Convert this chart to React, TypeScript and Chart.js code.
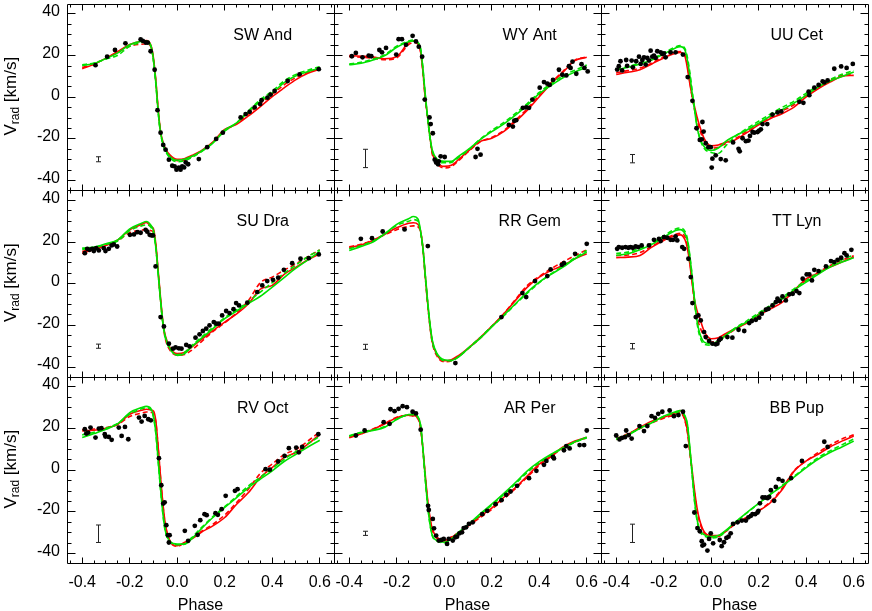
import React, { useEffect, useRef } from 'react';
import { Chart, registerables } from 'chart.js';

Chart.register(...registerables);

// ---------- shared axes ----------
const PHASE = [-0.4, -0.35, -0.3, -0.25, -0.2, -0.15, -0.13, -0.11, -0.1, -0.09, -0.08, -0.07, -0.06, -0.05, -0.03, 0, 0.03, 0.06, 0.1, 0.15, 0.2, 0.25, 0.3, 0.35, 0.4, 0.45, 0.5, 0.55, 0.6];
const X_TICKS = [-0.4, -0.2, 0, 0.2, 0.4, 0.6];
const Y_TICKS = [-40, -20, 0, 20, 40];
const X_MIN = -0.464;
const X_MAX = 0.66;
const Y_MIN = -44.8;
const Y_MAX = 44.8;

// ---------- SW And ----------
const SW_AND_RED = [13.7, 15.8, 18.8, 22, 25.3, 27.0, 27.3, 24.8, 18.8, 8, -6, -16.5, -21.5, -24.5, -27.8, -29.8, -29.5, -28, -25.8, -21.5, -15.5, -13, -9, -4.5, 0.3, 4.5, 8.5, 11.5, 13.5];
const SW_AND_RED_DASH = [14.3, 16, 18.7, 21.5, 24.5, 25.5, 25.7, 24, 18, 7.5, -6.5, -17, -22, -25, -28.3, -30.5, -30.2, -28.5, -26, -21.7, -16, -12.7, -8, -3, 1.5, 6, 9.5, 12, 14];
const SW_AND_GREEN = [15.2, 16.2, 18.6, 21.3, 25.2, 26.9, 27.0, 24.5, 18, 7, -7, -17, -22, -25.3, -28.6, -30.3, -29.8, -28.5, -26, -22, -15.8, -12.3, -7, -2, 2, 7, 10.3, 12.3, 14];
const SW_AND_GREEN_DASH = [15.6, 16.5, 18.3, 20.2, 24.5, 26.3, 26.6, 24.2, 17.5, 6.5, -7.5, -17.5, -22.5, -25.8, -29.2, -31, -30.5, -29, -26.3, -21.8, -16.3, -12.3, -6.5, -1.2, 3, 7.8, 11, 13, 14.7];
const SW_AND_OBS = [[-0.344, 15.4], [-0.295, 19.5], [-0.262, 22.7], [-0.218, 25.9], [-0.154, 27.8], [-0.145, 27.1], [-0.133, 26.3], [-0.124, 26.2], [-0.112, 22.1], [-0.095, 13.2], [-0.083, -6.2], [-0.07, -17.0], [-0.059, -22.9], [-0.049, -25.2], [-0.035, -30.0], [-0.021, -32.9], [-0.011, -33.2], [-0.003, -34.8], [0.007, -33.8], [0.014, -34.8], [0.021, -33.2], [0.029, -33.7], [0.036, -31.3], [0.046, -32.2], [0.091, -29.7], [0.126, -24.0], [0.164, -20.0], [0.192, -17.0], [0.267, -9.7], [0.288, -8.1], [0.305, -7.0], [0.326, -4.9], [0.349, -3.3], [0.355, -1.4], [0.38, -0.2], [0.393, 1.3], [0.41, 3.0], [0.465, 7.8], [0.515, 11.0], [0.596, 13.5]];
const SW_AND_ERR = [-0.33, -29.8, 1.2];

// ---------- WY Ant ----------
const WY_ANT_RED = [20, 19.7, 19.3, 18.5, 19.5, 26.3, 27, 26, 22.4, 12.9, 0, -9.4, -18.9, -26.8, -31.3, -33.2, -32.7, -30, -26, -21.3, -19.7, -16.5, -11.7, -6.2, 0.2, 6.5, 12, 17.6, 19.2];
const WY_ANT_RED_DASH = [19.5, 19.2, 18.8, 18, 19, 25.3, 26.3, 25.5, 22, 12.5, -0.5, -10, -19.5, -27.5, -32, -34, -33.3, -30.5, -26.3, -21.5, -19.3, -16, -11, -5.5, 1, 7, 12.5, 17.8, 19.4];
const WY_ANT_GREEN = [15.6, 16.3, 17.9, 20, 24, 26.7, 27.1, 26, 23.5, 14, 1.5, -9.5, -19, -25.5, -29.7, -30.8, -30.8, -28.4, -25.2, -20.5, -16.5, -12.9, -8.6, -3.8, 1.7, 5.7, 9.4, 12.1, 14.4];
const WY_ANT_GREEN_DASH = [16, 16.8, 18.3, 20.5, 24.5, 27, 27.5, 26.2, 23.8, 14.5, 1, -10, -19.5, -26, -30.3, -31.5, -31.3, -29, -25.5, -20.3, -16, -12.2, -7.8, -3, 2.3, 6.5, 10.3, 13, 15.5];
const WY_ANT_OBS = [[-0.389, 19.7], [-0.372, 21.3], [-0.344, 19.2], [-0.318, 20.0], [-0.307, 19.7], [-0.273, 22.7], [-0.262, 21.6], [-0.245, 23.7], [-0.202, 20.5], [-0.192, 27.9], [-0.178, 27.9], [-0.161, 25.2], [-0.133, 29.5], [-0.119, 26.8], [-0.107, 24.3], [-0.093, 19.5], [-0.082, -1.1], [-0.062, -9.7], [-0.057, -12.9], [-0.048, -17.3], [-0.04, -30.0], [-0.034, -31.3], [-0.026, -32.2], [-0.023, -30.8], [-0.015, -28.4], [0.002, -28.7], [0.132, -28.7], [0.14, -24.8], [0.153, -27.6], [0.272, -13.3], [0.289, -14.1], [0.295, -11.3], [0.303, -11.0], [0.331, -5.1], [0.345, -4.9], [0.357, -5.1], [0.371, -1.1], [0.402, 4.6], [0.42, 7.3], [0.434, 6.5], [0.444, 5.9], [0.458, 8.3], [0.483, 13.2], [0.497, 10.8], [0.514, 10.5], [0.525, 14.9], [0.532, 14.1], [0.54, 17.1], [0.556, 11.3], [0.578, 15.9], [0.59, 14.1], [0.604, 12.4]];
const WY_ANT_ERR = [-0.33, -29.4, 4.4];

// ---------- UU Cet ----------
const UU_CET_RED = [11, 12, 13.2, 16, 18.9, 21.1, 21.5, 19.5, 13.7, 6.5, 0.2, -4.6, -9.4, -13.3, -19.7, -23.3, -22.9, -21.7, -20.5, -17, -13.3, -10.2, -7.8, -4.6, 0.2, 4.1, 7.3, 10, 10.5];
const UU_CET_RED_DASH = [11.8, 12.8, 14, 16.5, 19.5, 21.8, 22, 20.5, 15, 7.5, 0, -6, -11, -15, -21, -24.5, -24, -22.3, -20, -16.3, -12.8, -9.5, -6.5, -3.5, 1, 4.8, 8, 10.5, 11.3];
const UU_CET_GREEN = [13.2, 14.4, 16, 17.9, 20.8, 23.7, 24.3, 22.5, 17.6, 10.5, 1.7, -6.2, -14.1, -18.9, -23.7, -25.6, -24.4, -21.3, -18.6, -15.7, -12.5, -9, -5.9, -2.7, 1, 4.9, 7.8, 10, 12.1];
const UU_CET_GREEN_DASH = [13.5, 14.8, 16.5, 18.5, 21.3, 24.2, 24.8, 23.2, 19, 12, 3, -5.5, -13.5, -19, -24.5, -26.5, -27, -23.5, -19, -15, -11.5, -8, -4.8, -1.8, 2, 5.5, 8.5, 11, 12.8];
const UU_CET_OBS = [[-0.396, 13.3], [-0.389, 14.9], [-0.382, 17.3], [-0.375, 12.9], [-0.358, 17.9], [-0.354, 15.1], [-0.335, 17.6], [-0.33, 14.4], [-0.316, 17.3], [-0.304, 19.5], [-0.297, 16.0], [-0.29, 17.9], [-0.283, 19.2], [-0.276, 15.7], [-0.269, 18.9], [-0.262, 17.6], [-0.255, 22.4], [-0.248, 19.5], [-0.241, 20.0], [-0.234, 18.9], [-0.227, 22.1], [-0.213, 21.6], [-0.206, 20.8], [-0.199, 21.1], [-0.192, 19.2], [-0.171, 21.6], [-0.15, 21.6], [-0.119, 20.5], [-0.099, 9.7], [-0.079, -1.7], [-0.062, -14.9], [-0.048, -20.5], [-0.04, -20.2], [-0.037, -11.9], [-0.032, -16.5], [-0.023, -22.1], [-0.012, -24.0], [-0.002, -24.0], [0.005, -29.5], [0.002, -33.8], [0.019, -27.9], [0.04, -29.7], [0.061, -30.3], [0.092, -21.7], [0.115, -24.8], [0.12, -26.0], [0.132, -19.7], [0.146, -21.1], [0.157, -20.8], [0.163, -18.6], [0.174, -16.7], [0.181, -17.0], [0.195, -16.7], [0.202, -16.0], [0.209, -15.4], [0.216, -12.9], [0.236, -12.9], [0.258, -8.3], [0.279, -7.3], [0.295, -6.8], [0.371, -2.2], [0.388, -2.7], [0.41, 2.7], [0.413, 1.0], [0.434, 4.6], [0.452, 5.9], [0.469, 7.6], [0.476, 7.1], [0.49, 8.1], [0.518, 13.7], [0.547, 14.8], [0.57, 14.1], [0.596, 16.0]];
const UU_CET_ERR = [-0.33, -29.5, 2.0];

// ---------- SU Dra ----------
const SU_DRA_RED = [14.7, 16.5, 18.4, 21, 25.9, 28.5, 29.4, 27.5, 26.4, 19, 6, -7, -18.5, -25, -30.8, -33.5, -33, -30.5, -27, -22.5, -18.4, -14.5, -9.6, -2.6, -0.8, 4.5, 8, 11.5, 14.4];
const SU_DRA_RED_DASH = [15.5, 16.8, 18.6, 20.8, 24.5, 25.8, 26, 25.5, 24.5, 18, 5, -8, -19.5, -26.5, -32, -34.3, -34, -32, -28, -23, -18.8, -14, -8, 0.5, 3.2, 6.5, 9.6, 13, 16.3];
const SU_DRA_GREEN = [17.1, 17.6, 19.2, 21.1, 26.4, 29.1, 29.9, 28, 25.6, 17.6, 4.8, -8, -19.2, -25.6, -31.2, -34.4, -33.6, -30.4, -26.4, -21.6, -16.8, -13.1, -9.5, -6, -1.6, 3, 7.5, 11.5, 15.5];
const SU_DRA_GREEN_DASH = [16.5, 17.3, 19, 20.5, 25.5, 27.8, 28.3, 27, 24.5, 17, 4.5, -8.5, -19.5, -26, -31.5, -34, -33, -29.8, -25.8, -21, -16.3, -12.5, -8.5, -4, 0.5, 5, 9, 13, 16.3];
const SU_DRA_OBS = [[-0.389, 14.7], [-0.379, 16.8], [-0.369, 16.3], [-0.358, 16.8], [-0.351, 15.7], [-0.341, 17.1], [-0.33, 16.0], [-0.309, 17.1], [-0.302, 15.7], [-0.288, 16.8], [-0.276, 18.4], [-0.267, 18.9], [-0.253, 17.9], [-0.199, 23.5], [-0.182, 23.7], [-0.168, 24.8], [-0.154, 24.5], [-0.133, 25.9], [-0.126, 25.0], [-0.116, 23.5], [-0.108, 23.2], [-0.102, 23.2], [-0.091, 8.3], [-0.07, -16.0], [-0.056, -20.5], [-0.035, -28.8], [-0.018, -31.2], [-0.007, -30.6], [0.007, -31.0], [0.018, -31.2], [0.038, -29.4], [0.052, -30.1], [0.077, -25.9], [0.094, -24.3], [0.108, -22.7], [0.122, -21.6], [0.136, -20.0], [0.154, -18.4], [0.164, -19.2], [0.175, -19.2], [0.189, -15.2], [0.206, -13.1], [0.22, -14.1], [0.237, -12.2], [0.248, -9.3], [0.26, -10.4], [0.295, -9.1], [0.337, -4.0], [0.358, -0.8], [0.379, 1.3], [0.403, 1.9], [0.425, 2.9], [0.449, 6.7], [0.484, 9.9], [0.519, 12.0], [0.554, 12.3], [0.596, 14.1]];
const SU_DRA_ERR = [-0.33, -30, 1.0];

// ---------- RR Gem ----------
const RR_GEM_RED = [17.3, 18.6, 20.8, 23.8, 26.9, 29.1, 29.3, 28.5, 25.6, 17.6, 4, -9, -20, -28, -34.3, -37, -36.5, -34.5, -31, -26, -20.5, -14.5, -8, -1.6, 3.2, 6.4, 8.8, 12, 14.4];
const RR_GEM_RED_DASH = [17.8, 19, 21, 23.5, 26, 27.5, 27.8, 27.3, 25, 17, 3.5, -9.5, -20.5, -28.5, -34.8, -37.5, -37, -35, -31.3, -26.3, -20.5, -14.5, -7.5, -0.8, 3.5, 7.2, 10.5, 13.5, 16.3];
const RR_GEM_GREEN = [16, 17.9, 20, 24, 28.5, 31.2, 32.3, 31, 25.6, 17.6, 4.8, -8, -19.2, -27.2, -33.6, -36.5, -36.8, -35.2, -31.2, -26.4, -20.8, -15.2, -9.6, -4, 0.8, 4.5, 8, 12, 15.2];
const RR_GEM_GREEN_DASH = [16.8, 18.3, 20.5, 24, 28, 30, 30.8, 30, 25, 17, 4, -9, -20, -28, -34, -37, -37, -35, -31, -26, -20.5, -15.5, -9.8, -4.5, 0.5, 4.8, 8.5, 12.5, 16];
const RR_GEM_OBS = [[-0.351, 21.6], [-0.304, 21.9], [-0.259, 25.1], [-0.167, 26.1], [-0.069, 18.1], [0.047, -38.1], [0.241, -16.0], [0.329, -4.5], [0.345, -6.4], [0.382, 1.3], [0.434, 3.7], [0.448, 6.9], [0.495, 9.1], [0.504, 9.9], [0.551, 14.4], [0.6, 19.2]];
const RR_GEM_ERR = [-0.33, -30.3, 1.2];

// ---------- TT Lyn ----------
const TT_LYN_RED = [12.5, 12.8, 13.6, 17.6, 20.8, 23.2, 23.5, 21, 16.8, 9.6, 0, -8, -12.8, -16, -22.7, -26.4, -25.9, -24, -21.6, -18.9, -15.2, -12, -8.8, -3.2, 2.4, 5.1, 8, 10.4, 12.8];
const TT_LYN_RED_DASH = [13.5, 13.8, 15, 18, 21.3, 23.8, 24.2, 22.5, 18.5, 11, 1, -9.5, -16, -20, -25, -28, -27.3, -25, -22, -18.5, -14.6, -11, -7.5, -3, 1.8, 5.5, 8.7, 11.3, 13.5];
const TT_LYN_GREEN = [13.6, 14.4, 16.3, 18.9, 22.4, 25.6, 26, 24, 20.8, 12.8, 3.2, -8, -17.6, -23.2, -28, -28.8, -27.5, -24.8, -21.6, -18.4, -14.7, -10.9, -7.2, -2.9, 0.8, 4.5, 8, 10.4, 12.5];
const TT_LYN_GREEN_DASH = [14.5, 15.2, 17, 19.5, 23, 26.3, 26.8, 25, 21.5, 13.5, 3.5, -8.5, -18.5, -24.5, -29, -29.5, -28, -25, -21.3, -17.8, -14, -10.3, -6.5, -2.3, 1.5, 5.3, 8.8, 11.5, 13.8];
const TT_LYN_OBS = [[-0.396, 16.8], [-0.389, 17.6], [-0.375, 17.3], [-0.361, 17.6], [-0.349, 17.3], [-0.34, 17.6], [-0.33, 17.3], [-0.318, 17.9], [-0.307, 17.6], [-0.293, 18.4], [-0.262, 18.4], [-0.241, 21.1], [-0.22, 21.6], [-0.213, 20.5], [-0.199, 22.4], [-0.185, 22.1], [-0.171, 21.1], [-0.161, 21.1], [-0.15, 22.7], [-0.143, 20.8], [-0.122, 17.6], [-0.114, 16.8], [-0.096, 12.0], [-0.086, 3.2], [-0.079, -9.3], [-0.065, -16.0], [-0.054, -15.2], [-0.044, -17.6], [-0.03, -23.2], [-0.023, -25.6], [-0.009, -27.5], [0.005, -28.8], [0.019, -29.1], [0.026, -28.8], [0.033, -27.2], [0.04, -26.4], [0.068, -25.6], [0.089, -25.9], [0.115, -22.1], [0.139, -22.7], [0.16, -18.9], [0.171, -17.9], [0.188, -17.3], [0.202, -16.3], [0.213, -14.4], [0.23, -12.5], [0.241, -12.0], [0.258, -10.4], [0.272, -8.8], [0.279, -7.2], [0.289, -8.3], [0.3, -6.1], [0.314, -8.0], [0.329, -5.1], [0.343, -4.8], [0.359, -3.5], [0.371, -4.5], [0.385, 2.4], [0.402, 4.5], [0.413, 4.5], [0.424, 1.6], [0.434, 6.7], [0.452, 6.1], [0.483, 8.3], [0.504, 10.9], [0.518, 10.4], [0.532, 11.5], [0.547, 12.5], [0.561, 14.7], [0.57, 13.6], [0.59, 16.3]];
const TT_LYN_ERR = [-0.33, -30, 1.3];

// ---------- RV Oct ----------
const RV_OCT_RED = [18.9, 19.2, 20.2, 22.1, 26.9, 28.8, 29.3, 29, 28.5, 23.7, 10.9, -3.5, -16.3, -25.9, -34, -36.3, -34.7, -33.1, -29.9, -26.7, -22.7, -16.3, -10.7, -3.5, 1.3, 6.1, 8.5, 12.5, 17.3];
const RV_OCT_RED_DASH = [19.5, 19.8, 20.5, 22, 25.8, 27.5, 28, 27.8, 27.3, 23, 10.5, -4, -17, -26.5, -34.5, -36.5, -35, -33, -29.5, -26, -21.5, -15.5, -9, -1.5, 3, 7.5, 10, 14, 18.5];
const RV_OCT_GREEN = [15.7, 17.6, 19.7, 22.4, 27.7, 30.1, 30.7, 29.5, 26.1, 18.1, 4.5, -9.1, -21.1, -29.1, -34.2, -35.5, -35.5, -33.1, -28.3, -22.7, -17.9, -13.1, -8.3, -4.3, -0.3, 4.2, 7.7, 11.2, 14.4];
const RV_OCT_GREEN_DASH = [17, 18.3, 20.2, 22.5, 27, 29.5, 30, 29, 25.5, 17.5, 4, -9.5, -21.5, -29.5, -34.5, -35.8, -35.5, -32.5, -27.8, -22.3, -17.5, -12.5, -7.5, -3.3, 0.8, 5.2, 9, 12.8, 16.3];
const RV_OCT_OBS = [[-0.389, 19.7], [-0.383, 17.6], [-0.375, 18.1], [-0.365, 20.5], [-0.344, 15.7], [-0.33, 20.0], [-0.319, 20.2], [-0.305, 17.3], [-0.302, 16.2], [-0.288, 16.0], [-0.276, 14.6], [-0.246, 20.5], [-0.234, 16.5], [-0.22, 20.8], [-0.206, 14.9], [-0.161, 25.3], [-0.15, 23.4], [-0.137, 26.1], [-0.122, 24.5], [-0.111, 24.0], [-0.077, 5.8], [-0.067, -7.2], [-0.059, -16.0], [-0.053, -15.4], [-0.046, -26.4], [-0.039, -31.2], [-0.035, -34.7], [-0.032, -31.2], [0.032, -29.1], [0.046, -33.9], [0.074, -26.7], [0.086, -31.0], [0.097, -24.0], [0.115, -21.1], [0.124, -21.6], [0.161, -20.6], [0.171, -21.4], [0.187, -18.7], [0.204, -12.3], [0.243, -9.9], [0.254, -9.1], [0.372, 0.5], [0.39, 0.3], [0.425, 4.2], [0.452, 6.9], [0.47, 10.6], [0.501, 10.9], [0.512, 8.6], [0.526, 11.2], [0.594, 17.3]];
const RV_OCT_ERR = [-0.33, -30.5, 4.2];

// ---------- AR Per ----------
const AR_PER_RED = [15.6, 17.5, 19.6, 22.3, 25.2, 26.5, 26.4, 25, 21.2, 10.8, -1.9, -13.9, -22.6, -28.2, -32.2, -33.8, -32.2, -30.3, -26.6, -22.3, -18.2, -13.1, -8.3, -2.7, 2.9, 6.9, 11.2, 14, 15.9];
const AR_PER_RED_DASH = [15.8, 17.7, 19.8, 22.5, 25.5, 26.3, 26, 24.5, 20.5, 10, -3, -15, -23.5, -29, -32.8, -34, -32, -30, -26.8, -22.8, -18.8, -13.8, -8.8, -3.3, 2.3, 6.5, 10.8, 13.6, 15.6];
const AR_PER_GREEN = [16.4, 18, 19.1, 20.7, 24.4, 26.8, 26.9, 25.5, 22, 10.8, -3.5, -16.3, -25.8, -31.4, -33.8, -34.6, -33, -29.8, -26.2, -21.1, -16.3, -11.2, -5.9, -0.3, 4.1, 7.7, 10.8, 13.7, 15.9];
const AR_PER_GREEN_DASH = [16.6, 18.2, 19.4, 21, 24.6, 26.6, 26.7, 25.3, 21.8, 10.5, -4, -16.5, -26, -31.6, -34, -34.8, -33.2, -30, -26.5, -21.5, -16.8, -11.8, -6.5, -1, 3.5, 7.3, 10.5, 13.4, 15.6];
const AR_PER_OBS = [[-0.372, 16.7], [-0.335, 19.1], [-0.255, 23.1], [-0.23, 22.3], [-0.226, 29.3], [-0.209, 28.4], [-0.192, 29.5], [-0.175, 30.8], [-0.157, 30.3], [-0.133, 28.1], [-0.119, 27.3], [-0.099, 19.5], [-0.068, -17.1], [-0.065, -19.1], [-0.048, -23.4], [-0.043, -27.9], [-0.034, -31.4], [-0.023, -33.8], [-0.012, -33.5], [-0.002, -33.0], [0.012, -35.4], [0.019, -33.0], [0.036, -33.8], [0.047, -32.2], [0.054, -31.9], [0.064, -30.3], [0.075, -29.8], [0.082, -27.8], [0.092, -27.4], [0.104, -25.8], [0.12, -25.0], [0.16, -21.1], [0.181, -19.5], [0.216, -16.3], [0.241, -14.4], [0.261, -11.8], [0.279, -10.2], [0.307, -7.5], [0.357, -3.8], [0.388, -0.3], [0.42, 2.6], [0.43, 4.5], [0.458, 6.4], [0.462, 5.7], [0.504, 9.6], [0.514, 11.6], [0.528, 10.5], [0.57, 12.1], [0.589, 12.1], [0.6, 19.1]];
const AR_PER_ERR = [-0.33, -30.3, 1.0];

// ---------- BB Pup ----------
const BB_PUP_RED = [14.8, 17.2, 20.7, 23.6, 25.5, 27.6, 28.7, 24, 18.8, 9.3, -0.3, -9.9, -17.9, -23.4, -29.5, -31.4, -31.4, -29.3, -25.8, -22.6, -19.5, -15.5, -9.1, -0.3, 4.5, 7.7, 11.2, 14, 16.4];
const BB_PUP_RED_DASH = [15.2, 17.5, 20, 22.8, 25, 26.8, 27.8, 23.5, 18, 8.5, -1.5, -11, -19, -24.5, -30, -32, -31.8, -29.5, -26, -22.8, -19.5, -15, -8.5, 0, 4.5, 8.5, 12, 15, 17];
const BB_PUP_GREEN = [14.8, 16.9, 20.1, 22.8, 26, 28.1, 28.7, 26, 22, 10.8, -1.9, -14.7, -23.4, -28.2, -30.9, -31.9, -31.4, -29, -25, -20.3, -15.9, -11.5, -7.5, -3.2, 1.3, 5.3, 8.5, 11.2, 14];
const BB_PUP_GREEN_DASH = [15.3, 17.2, 20.3, 23, 25.8, 27.6, 28.2, 25.6, 21.5, 10.3, -2.5, -15.2, -24, -28.8, -31.5, -32.5, -32, -29.5, -25.3, -20.5, -16, -11.5, -7.2, -2.8, 1.8, 6, 9.3, 12.2, 15];
const BB_PUP_OBS = [[-0.4, 16.7], [-0.386, 14.8], [-0.375, 15.6], [-0.363, 15.9], [-0.358, 19.1], [-0.347, 16.9], [-0.335, 15.2], [-0.302, 21.2], [-0.283, 18.8], [-0.269, 21.2], [-0.251, 26.0], [-0.237, 25.2], [-0.223, 27.1], [-0.206, 28.1], [-0.175, 28.7], [-0.157, 26.0], [-0.138, 26.5], [-0.119, 28.1], [-0.107, 11.6], [-0.071, -20.3], [-0.058, -27.8], [-0.048, -29.3], [-0.04, -34.1], [-0.037, -36.2], [-0.03, -35.7], [-0.016, -38.6], [-0.009, -33.0], [-0.002, -30.3], [0.008, -35.1], [0.036, -33.5], [0.044, -36.5], [0.054, -34.6], [0.064, -32.5], [0.073, -31.9], [0.082, -30.3], [0.092, -25.8], [0.111, -25.0], [0.129, -24.2], [0.146, -24.2], [0.157, -22.6], [0.167, -21.9], [0.174, -21.1], [0.185, -21.1], [0.195, -20.3], [0.199, -19.5], [0.205, -15.9], [0.216, -13.1], [0.227, -13.1], [0.237, -13.4], [0.244, -12.8], [0.251, -9.6], [0.265, -14.7], [0.272, -8.0], [0.284, -4.3], [0.3, -5.1], [0.336, -3.8], [0.382, 4.5], [0.476, 13.7], [0.49, 11.2]];
const BB_PUP_ERR = [-0.33, -30.3, 4.4];

const PANELS = [
  { name: 'SW And', red: SW_AND_RED, redDash: SW_AND_RED_DASH, green: SW_AND_GREEN, greenDash: SW_AND_GREEN_DASH, obs: SW_AND_OBS, err: SW_AND_ERR },
  { name: 'WY Ant', red: WY_ANT_RED, redDash: WY_ANT_RED_DASH, green: WY_ANT_GREEN, greenDash: WY_ANT_GREEN_DASH, obs: WY_ANT_OBS, err: WY_ANT_ERR },
  { name: 'UU Cet', red: UU_CET_RED, redDash: UU_CET_RED_DASH, green: UU_CET_GREEN, greenDash: UU_CET_GREEN_DASH, obs: UU_CET_OBS, err: UU_CET_ERR },
  { name: 'SU Dra', red: SU_DRA_RED, redDash: SU_DRA_RED_DASH, green: SU_DRA_GREEN, greenDash: SU_DRA_GREEN_DASH, obs: SU_DRA_OBS, err: SU_DRA_ERR },
  { name: 'RR Gem', red: RR_GEM_RED, redDash: RR_GEM_RED_DASH, green: RR_GEM_GREEN, greenDash: RR_GEM_GREEN_DASH, obs: RR_GEM_OBS, err: RR_GEM_ERR },
  { name: 'TT Lyn', red: TT_LYN_RED, redDash: TT_LYN_RED_DASH, green: TT_LYN_GREEN, greenDash: TT_LYN_GREEN_DASH, obs: TT_LYN_OBS, err: TT_LYN_ERR },
  { name: 'RV Oct', red: RV_OCT_RED, redDash: RV_OCT_RED_DASH, green: RV_OCT_GREEN, greenDash: RV_OCT_GREEN_DASH, obs: RV_OCT_OBS, err: RV_OCT_ERR },
  { name: 'AR Per', red: AR_PER_RED, redDash: AR_PER_RED_DASH, green: AR_PER_GREEN, greenDash: AR_PER_GREEN_DASH, obs: AR_PER_OBS, err: AR_PER_ERR },
  { name: 'BB Pup', red: BB_PUP_RED, redDash: BB_PUP_RED_DASH, green: BB_PUP_GREEN, greenDash: BB_PUP_GREEN_DASH, obs: BB_PUP_OBS, err: BB_PUP_ERR },
];

const RED = 'rgb(255,0,0)';
const GREEN = 'rgb(0,225,0)';
const FONT = '"Liberation Sans", Arial, Helvetica, sans-serif';

const xId = (i: number) => 'x' + ((i % 3) + 1);
const yId = (i: number) => 'y' + (Math.floor(i / 3) + 1);

function lineDs(values: number[], color: string, dashed: boolean, order: number, i: number) {
  return {
    type: 'line' as const,
    data: PHASE.map((x, k) => ({ x, y: values[k] })),
    borderColor: color,
    borderWidth: 1.6,
    borderDash: dashed ? [5, 3] : [],
    pointRadius: 0,
    fill: false,
    cubicInterpolationMode: 'monotone' as const,
    order,
    xAxisID: xId(i),
    yAxisID: yId(i),
  };
}

const snap = (v: number) => Math.floor(v) + 0.5;

const decorPlugin = {
  id: 'decor',
  afterDatasetsDraw(chart: any) {
    const ctx = chart.ctx;
    ctx.save();
    ctx.strokeStyle = '#222';
    ctx.lineWidth = 1;
    PANELS.forEach((p, i) => {
      const xs = chart.scales[xId(i)];
      const ys = chart.scales[yId(i)];
      const [ex, ey, eh] = p.err;
      const px = snap(xs.getPixelForValue(ex));
      const y0 = ys.getPixelForValue(ey - eh);
      const y1 = ys.getPixelForValue(ey + eh);
      ctx.beginPath();
      ctx.moveTo(px, y0); ctx.lineTo(px, y1);
      ctx.moveTo(px - 2.5, y0); ctx.lineTo(px + 2.5, y0);
      ctx.moveTo(px - 2.5, y1); ctx.lineTo(px + 2.5, y1);
      ctx.stroke();
    });
    ctx.restore();
  },
  afterDraw(chart: any) {
    const ctx = chart.ctx;
    ctx.save();
    ctx.strokeStyle = '#000';
    ctx.lineWidth = 1;
    PANELS.forEach((p, i) => {
      const xs = chart.scales[xId(i)];
      const ys = chart.scales[yId(i)];
      const L = snap(xs.left), R = snap(xs.right), T = snap(ys.top), B = snap(ys.bottom);
      ctx.beginPath();
      ctx.rect(L, T, R - L, B - T);
      for (let k = -9; k <= 13; k++) {
        const v = k * 0.05;
        if (v < X_MIN || v > X_MAX) continue;
        const px = snap(xs.getPixelForValue(v));
        const len = k % 4 === 0 ? 6 : 3;
        ctx.moveTo(px, T); ctx.lineTo(px, T + len);
        ctx.moveTo(px, B); ctx.lineTo(px, B - len);
      }
      for (let k = -8; k <= 8; k++) {
        const v = k * 5;
        const py = snap(ys.getPixelForValue(v));
        const len = k % 4 === 0 ? 8 : 4;
        ctx.moveTo(L, py); ctx.lineTo(L + len, py);
        ctx.moveTo(R, py); ctx.lineTo(R - len, py);
      }
      ctx.stroke();
      ctx.fillStyle = '#000';
      ctx.font = '16px ' + FONT;
      ctx.textAlign = 'center';
      ctx.textBaseline = 'alphabetic';
      ctx.fillText(p.name, xs.left + 195.7, ys.top + 35.5);
    });
    ['y1', 'y2', 'y3'].forEach((id) => {
      const ys = chart.scales[id];
      const cy = (ys.top + ys.bottom) / 2 - 1;
      ctx.save();
      ctx.translate(16, cy);
      ctx.rotate(-Math.PI / 2);
      const big = '17px ' + FONT;
      const small = '12px ' + FONT;
      ctx.font = big;
      const wV = ctx.measureText('V').width;
      const wRest = ctx.measureText(' [km/s]').width;
      ctx.font = small;
      const wSub = ctx.measureText('rad').width;
      let x = -(wV + wSub + wRest) / 2;
      ctx.textAlign = 'left';
      ctx.textBaseline = 'alphabetic';
      ctx.fillStyle = '#000';
      ctx.font = big; ctx.fillText('V', x, 0); x += wV;
      ctx.font = small; ctx.fillText('rad', x, 3); x += wSub;
      ctx.font = big; ctx.fillText(' [km/s]', x, 0);
      ctx.restore();
    });
    ['x1', 'x2', 'x3'].forEach((id) => {
      const xs = chart.scales[id];
      ctx.fillStyle = '#000';
      ctx.font = '16px ' + FONT;
      ctx.textAlign = 'center';
      ctx.textBaseline = 'alphabetic';
      ctx.fillText('Phase', (xs.left + xs.right) / 2, 610);
    });
    ctx.restore();
  },
};

function xScale(weight: number) {
  return {
    type: 'linear' as const,
    axis: 'x' as const,
    position: 'bottom' as const,
    stack: 'cols',
    stackWeight: 1,
    weight,
    min: X_MIN,
    max: X_MAX,
    grid: { display: false, drawTicks: false },
    border: { display: false },
    afterBuildTicks: (s: any) => { s.ticks = X_TICKS.map((v) => ({ value: v })); },
    afterFit: (s: any) => {
      s.height = 47.5;
      s.paddingLeft = 0; s.paddingRight = 0; s.paddingTop = 0; s.paddingBottom = 0;
    },
    ticks: {
      autoSkip: false,
      maxRotation: 0,
      minRotation: 0,
      padding: 9,
      color: '#000',
      font: { size: 16, family: FONT },
      callback: (v: any) => Number(v).toFixed(1),
    },
  };
}

function yScale(weight: number) {
  return {
    type: 'linear' as const,
    axis: 'y' as const,
    position: 'left' as const,
    stack: 'rows',
    stackWeight: 1,
    weight,
    min: Y_MIN,
    max: Y_MAX,
    grid: { display: false, drawTicks: false },
    border: { display: false },
    afterBuildTicks: (s: any) => { s.ticks = Y_TICKS.map((v) => ({ value: v })); },
    afterFit: (s: any) => {
      s.width = 67;
      s.paddingLeft = 0; s.paddingRight = 0; s.paddingTop = 0; s.paddingBottom = 0;
    },
    ticks: {
      autoSkip: false,
      padding: 7,
      labelOffset: -2,
      color: '#000',
      font: { size: 16, family: FONT },
      callback: (v: any) => String(v),
    },
  };
}

export default function App() {
  const ref = useRef<HTMLCanvasElement | null>(null);
  useEffect(() => {
    if (!ref.current) return;
    const datasets: any[] = [];
    PANELS.forEach((p, i) => {
      datasets.push({
        type: 'scatter',
        data: p.obs.map(([x, y]) => ({ x, y })),
        backgroundColor: '#000',
        borderWidth: 0,
        pointRadius: 2.4,
        showLine: false,
        order: 0,
        xAxisID: xId(i),
        yAxisID: yId(i),
      });
      datasets.push(lineDs(p.green, GREEN, false, 1, i));
      datasets.push(lineDs(p.greenDash, GREEN, true, 2, i));
      datasets.push(lineDs(p.redDash, RED, true, 3, i));
      datasets.push(lineDs(p.red, RED, false, 4, i));
    });
    const chart = new Chart(ref.current, {
      type: 'scatter',
      data: { datasets },
      options: {
        animation: false,
        responsive: false,
        devicePixelRatio: 1,
        events: [],
        layout: { padding: { left: 0, right: 1.5, top: 0, bottom: 0 } },
        plugins: { legend: { display: false }, tooltip: { enabled: false }, title: { display: false } },
        scales: {
          x1: xScale(0),
          x2: xScale(0),
          x3: xScale(0),
          y1: yScale(3),
          y2: yScale(2),
          y3: yScale(1),
        } as any,
      },
      plugins: [decorPlugin],
    } as any);
    return () => chart.destroy();
  }, []);
  return (
    <div style={{ position: 'absolute', left: 0, top: 0, width: 872, height: 611, background: '#fff' }}>
      <canvas ref={ref} width={872} height={611} style={{ display: 'block' }} />
    </div>
  );
}
